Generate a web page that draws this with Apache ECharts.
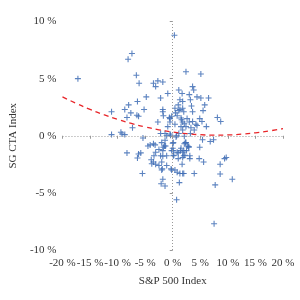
<!DOCTYPE html>
<html>
<head>
<meta charset="utf-8">
<script src="https://cdn.jsdelivr.net/npm/echarts@6/dist/echarts.min.js"></script>
<style>html,body{margin:0;padding:0;background:#fff}#c{width:300px;height:300px}</style>
</head>
<body>
<div id="c"></div>
<script>
// S&P 500 monthly return (%) vs SG CTA Index monthly return (%)
var pointsLeft = [[-17.2,5.0],[-8.1,6.7],[-7.4,7.2],[-6.6,5.3],[-6.1,4.6],[-3.5,4.6],[-4.8,3.4],[-6.4,3.0],[-8.0,2.7],[-8.7,2.3],[-7.6,2.0],[-5.2,2.3],[-11.1,2.1],[-6.5,1.8],[-6.2,1.7],[-8.3,1.6],[-7.3,0.7],[-11.1,0.1],[-9.4,0.3],[-9.2,0.15],[-8.7,0.1],[-5.4,-0.2],[-4.5,-0.9],[-3.5,-0.7]];
var pointsLeftLow = [[-8.3,-1.5],[-5.8,-1.5],[-6.2,-1.6],[-6.4,-1.95],[-5.5,-3.3],[-3.1,-1.45],[-3.4,-1.75],[-3.9,-2.1],[-3.5,-2.3],[-3.1,-2.5],[-2.5,-2.6],[-1.9,-2.9],[-1.1,-2.6],[-0.3,-2.9],[-2.0,-3.0],[-1.8,-1.3],[-1.5,-0.9],[-1.4,-0.4],[-1.1,-1.75],[-1.8,-1.8],[-2.0,-2.3],[-1.8,-3.8],[-2.1,-4.2],[-1.4,-4.4],[-2.5,-1.2],[-2.0,-0.6],[-1.7,-1.0],[-4.1,-0.8],[-3.2,-0.8],[-1.3,-0.9],[-2.2,-1.75],[-3.8,-2.45]];
var pointsUpper = [[0.3,8.8],[2.4,5.6],[5.1,5.4],[-2.7,4.8],[-1.8,4.7],[-3.1,4.3],[1.1,4.0],[-0.9,3.7],[1.7,3.7],[3.0,3.6],[3.6,4.3],[3.8,4.0],[-2.2,3.3],[4.4,3.4],[5.1,3.3],[6.5,3.3],[1.3,3.15],[1.8,3.0],[3.2,3.15],[1.0,2.7],[3.4,2.6],[5.8,2.7],[-1.8,2.3],[0.4,2.4],[1.3,2.3],[1.8,2.4],[2.0,2.1],[0.5,2.0],[3.6,2.1],[5.5,2.2],[1.1,2.2],[-1.8,2.1],[-1.7,1.75],[-0.2,1.7],[0.8,1.75],[-0.5,1.5],[-0.6,1.6],[-2.7,1.2],[1.5,1.55],[2.6,1.5],[3.0,1.2],[2.1,1.05],[3.6,1.25],[4.2,1.0],[4.9,1.5],[5.3,1.25],[8.1,1.6],[8.7,1.25],[1.6,1.4],[1.8,1.2],[-0.5,1.2],[-0.9,0.8],[0.4,1.0],[1.5,0.8],[2.4,0.8],[3.3,0.7],[4.4,0.9],[6.1,0.8],[1.8,0.5],[3.9,0.5],[-2.2,0.2],[-1.4,0.2],[-0.5,0.15],[1.1,0.2],[3.2,0.2],[0.7,0.0],[2.1,-0.05],[-1.1,0.0],[0.6,-0.1],[-0.4,0.05]];
var pointsRightLow = [[5.4,-0.35],[6.8,-0.5],[7.4,-0.35],[4.9,-1.0],[4.8,-2.0],[5.6,-2.3],[8.6,-2.5],[9.4,-2.0],[9.7,-1.9],[8.6,-3.35],[10.8,-3.8],[7.7,-4.3],[7.5,-7.7],[0.7,-5.6],[1.2,-4.1],[0.8,-3.2],[1.8,-3.3],[3.9,-3.3],[1.7,-2.5],[3.1,-2.0],[2.2,-1.7],[1.0,-1.5],[0.2,-1.7],[2.0,-1.3],[0.1,-1.3],[0.8,-1.45],[1.4,-1.3],[1.8,-1.45],[2.1,-0.7],[2.9,-0.95],[3.1,-1.75],[1.8,-1.9],[1.0,-2.0],[0.4,-3.0],[1.3,-3.3],[2.0,-3.3],[-0.2,-3.0],[0,-0.65],[0.1,-0.6],[2.4,-0.6],[2.3,-0.6],[2.7,-0.9],[1.5,-1.1],[0,-1.1],[2.9,-1.0],[2.5,-1.3],[2.0,-1.75],[0.1,-1.75],[-0.2,-1.3]];
// quadratic fit curve
var fitX = [-20,-17.5,-15,-12.5,-10,-7.5,-5,-2.5,0,2.5,5,7.5,10,12.5,15,17.5,20];
var fitY = [3.40,2.83,2.31,1.84,1.43,1.08,0.77,0.52,0.32,0.18,0.09,0.05,0.07,0.14,0.26,0.42,0.62];
var xTicks = [-20,-15,-10,-5,0,5,10,15,20];
var yTicks = [-10,-5,0,5,10];

var allPoints = pointsLeft.concat(pointsLeftLow, pointsUpper, pointsRightLow);
var fitData = fitX.map(function(x,i){return [x, fitY[i]];});
var FONT = 'Liberation Serif';
var plus = 'path://M4.1,0H5.9V4.1H10V5.9H5.9V10H4.1V5.9H0V4.1H4.1Z';

var chart = echarts.init(document.getElementById('c'), null, {renderer:'canvas'});
chart.setOption({
  animation:false,
  backgroundColor:'#fff',
  grid:{left:55,right:17,top:21.5,bottom:50,containLabel:false},
  xAxis:{
    type:'value', min:xTicks[0], max:xTicks[xTicks.length-1], interval:5,
    axisLine:{show:false},
    axisTick:{show:true,length:3,lineStyle:{color:'#999'}},
    splitLine:{show:false},
    axisLabel:{formatter:function(v){return v+' %';},fontFamily:FONT,fontSize:11,color:'#333',margin:8},
    name:'S&P 500 Index', nameLocation:'middle', nameGap:26,
    nameTextStyle:{fontFamily:FONT,fontSize:11,color:'#333'}
  },
  yAxis:{
    type:'value', min:yTicks[0], max:yTicks[yTicks.length-1], interval:5,
    axisLine:{show:false},
    axisTick:{show:true,length:3,lineStyle:{color:'#999'}},
    splitLine:{show:false},
    axisLabel:{formatter:function(v){return v+' %';},fontFamily:FONT,fontSize:11,color:'#333',margin:6},
    name:'SG CTA Index', nameLocation:'middle', nameGap:41,
    nameTextStyle:{fontFamily:FONT,fontSize:11,color:'#333'}
  },
  series:[
    {
      type:'scatter', data:allPoints, symbol:plus, symbolSize:6,
      itemStyle:{color:'#3f6db5',opacity:0.85},
      markLine:{silent:true,symbol:['none','none'],label:{show:false},
        lineStyle:{color:'#999',type:[1,2],width:1},
        data:[{xAxis:0},{yAxis:0}]},
      z:3
    },
    {
      type:'line', data:fitData, smooth:true, showSymbol:false,
      lineStyle:{color:'#e8262a',type:[5,4],width:1.3}, z:4
    }
  ]
});
</script>
</body>
</html>
